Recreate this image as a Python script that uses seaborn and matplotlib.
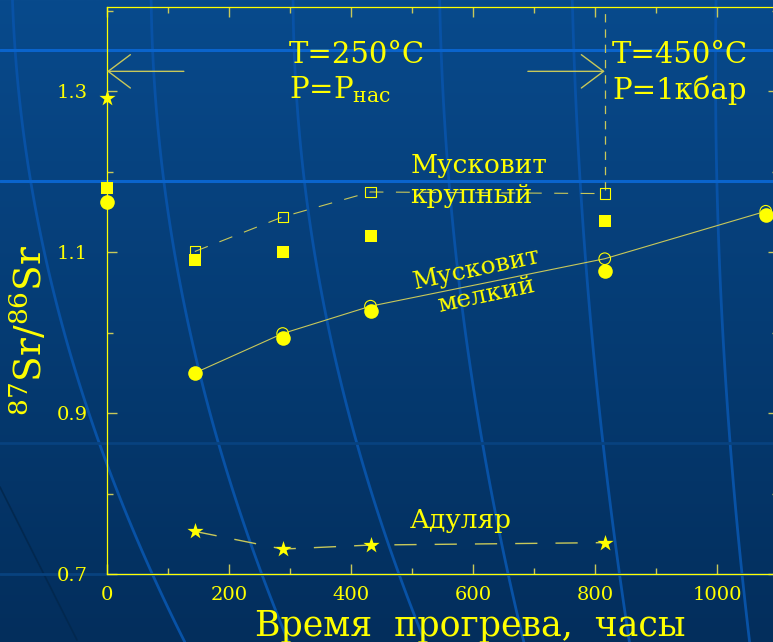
import numpy as np
import matplotlib
matplotlib.use("Agg")
import matplotlib.pyplot as plt
import seaborn as sns

# heating time, hours
hours_fine = [0, 144, 288, 432, 816, 1080]
sr_fine = [1.162, 0.950, 0.993, 1.027, 1.077, 1.146]          # filled circles
hours_fine_open = [288, 432, 816, 1080]
sr_fine_open = [0.999, 1.033, 1.092, 1.151]                    # open circles
hours_fine_line = [144, 288, 432, 816, 1080]
sr_fine_line = [0.950, 0.999, 1.033, 1.092, 1.151]

hours_coarse = [0, 144, 288, 432, 816]
sr_coarse = [1.180, 1.091, 1.100, 1.120, 1.139]                # filled squares
hours_coarse_open = [144, 288, 432, 816]
sr_coarse_open = [1.101, 1.144, 1.175, 1.173]                  # open squares

hours_adul = [0, 144, 288, 432, 816]
sr_adul = [1.292, 0.753, 0.731, 0.736, 0.739]                  # stars
hours_adul_line = [144, 288, 432, 816]
sr_adul_line = [0.753, 0.731, 0.736, 0.739]

switch_hours = 816
arrow_level = 1.325

YELLOW = "#ffff00"
OLIVE = "#c8c85a"

sns.set_style("ticks")
plt.rcParams["font.family"] = ["DejaVu Serif"]
plt.rcParams["mathtext.fontset"] = "custom"
plt.rcParams["mathtext.rm"] = "DejaVu Serif"
plt.rcParams["mathtext.it"] = "DejaVu Serif"
plt.rcParams["lines.scale_dashes"] = False

fig = plt.figure(figsize=(7.73, 6.42), dpi=100)

# background: blue gradient with template lines (pixel coords)
bg = fig.add_axes([0, 0, 1, 1], zorder=0)
grad = np.linspace(0, 1, 256)[:, None]
top = np.array([8, 74, 140]) / 255
bot = np.array([3, 46, 92]) / 255
img = top[None, None, :] * (1 - grad[:, :, None]) + bot[None, None, :] * grad[:, :, None]
bg.imshow(img, extent=[0, 773, 642, 0], aspect="auto")
curves = [
    ([0, 100, 233, 320, 440, 640], [13, 20, 37, 62, 100, 183]),
    ([0, 133, 320, 443, 640], [152, 157, 187, 220, 287]),
    ([0, 133, 320, 440, 573, 640], [293, 300, 325, 357, 400, 423]),
    ([0, 100, 320, 440, 640], [440, 443, 463, 483, 523]),
    ([0, 100, 320, 440, 553, 640], [572, 577, 588, 603, 620, 627]),
    ([0, 100, 320, 440, 640], [715, 717, 723, 728, 750]),
]
yy = np.linspace(0, 642, 100)
for cy, cx in curves:
    c = np.polyfit(cy, cx, 2)
    bg.plot(np.polyval(c, yy), yy, color="#0852a6", lw=2.0)
bg.plot([0, 77], [487, 640], color="#02284f", lw=1.2)
for y0, col, w in [(50, "#0a64cc", 2.2), (181, "#0a64cc", 2.2), (443, "#08427f", 2.0), (574, "#08427f", 2.0)]:
    bg.axhline(y0, color=col, lw=w)
bg.set_xlim(0, 773)
bg.set_ylim(642, 0)
bg.axis("off")

ax = fig.add_axes([107 / 773, 68 / 642, 0.868, 567 / 642], zorder=1)
ax.set_facecolor("none")

# lines
sns.lineplot(x=hours_fine_line, y=sr_fine_line, ax=ax, color=OLIVE, lw=0.8)
sns.lineplot(x=hours_coarse_open, y=sr_coarse_open, ax=ax, color=OLIVE, lw=0.8,
             linestyle=(0, (10, 9)))
sns.lineplot(x=hours_adul_line, y=sr_adul_line, ax=ax, color=OLIVE, lw=1.0,
             linestyle=(0, (16, 13)))
ax.axvline(switch_hours, ymin=(1.177 - 0.7) / 0.705, ymax=1, color=OLIVE, lw=0.9,
           linestyle=(0, (6, 5)))

# markers
sns.scatterplot(x=hours_coarse, y=sr_coarse, ax=ax, marker="s", s=72, color=YELLOW,
                linewidth=0, zorder=3, clip_on=False)
sns.scatterplot(x=hours_fine, y=sr_fine, ax=ax, marker="o", s=110, color=YELLOW,
                linewidth=0, zorder=3, clip_on=False)
sns.scatterplot(x=hours_adul, y=sr_adul, ax=ax, marker="*", s=150, color=YELLOW,
                linewidth=0, zorder=3, clip_on=False)
ax.scatter(hours_coarse_open, sr_coarse_open, marker="s", s=55, facecolors="none",
           edgecolors=YELLOW, linewidths=0.8, zorder=4, clip_on=False)
ax.scatter(hours_fine_open, sr_fine_open, marker="o", s=70, facecolors="none",
           edgecolors=YELLOW, linewidths=0.8, zorder=2, clip_on=False)

# arrows
arrow_kw = dict(arrowstyle="->,head_length=0.8,head_width=0.6", color=OLIVE, lw=1.0,
                mutation_scale=20, shrinkA=0, shrinkB=0)
ax.annotate("", xy=(0, arrow_level), xytext=(126, arrow_level), arrowprops=arrow_kw)
ax.annotate("", xy=(switch_hours, arrow_level), xytext=(690, arrow_level), arrowprops=arrow_kw)

# text
ax.text(298, 1.345, "T=250°C", color=YELLOW, fontsize=21, va="center")
ax.text(298, 1.302, r"P=P$_{\mathrm{нас}}$", color=YELLOW, fontsize=21, va="center")
ax.text(828, 1.345, "T=450°C", color=YELLOW, fontsize=21, va="center")
ax.text(828, 1.302, "P=1кбар", color=YELLOW, fontsize=21, va="center")
ax.text(497, 1.208, "Мусковит", color=YELLOW, fontsize=19, va="center")
ax.text(497, 1.170, "крупный", color=YELLOW, fontsize=19, va="center")
ax.text(607, 1.079, "Мусковит", color=YELLOW, fontsize=18, va="center", ha="center",
        rotation=12, rotation_mode="anchor")
ax.text(621, 1.046, "мелкий", color=YELLOW, fontsize=18, va="center", ha="center",
        rotation=12, rotation_mode="anchor")
ax.text(497, 0.767, "Адуляр", color=YELLOW, fontsize=19, va="center")

# axes
ax.set_xlim(0, 1098)
ax.set_ylim(0.7, 1.405)
ax.set_xticks([0, 200, 400, 600, 800, 1000])
ax.set_xticks([100, 300, 500, 700, 900, 1100], minor=True)
ax.set_yticks([0.7, 0.9, 1.1, 1.3])
ax.set_yticks([0.8, 1.0, 1.2, 1.4], minor=True)
ax.set_yticklabels(["0.7", "0.9", "1.1", "1.3"])
ax.tick_params(which="both", direction="in", top=True, right=True, color=OLIVE,
               labelcolor=YELLOW, labelsize=14, width=1.0)
ax.tick_params(which="major", length=7, pad=9)
ax.tick_params(which="minor", length=4)
ax.tick_params(axis="y", pad=14)
for sp in ax.spines.values():
    sp.set_color(YELLOW)
    sp.set_linewidth(0.9)
ax.set_xlabel("Время  прогрева,  часы", color=YELLOW, fontsize=25)
ax.xaxis.set_label_coords(0.541, -0.062)
ax.set_ylabel(r"$^{87}$Sr/$^{86}$Sr", color=YELLOW, fontsize=27)
ax.yaxis.set_label_coords(-0.085, 0.43)

fig.savefig("out.png", dpi=100)
